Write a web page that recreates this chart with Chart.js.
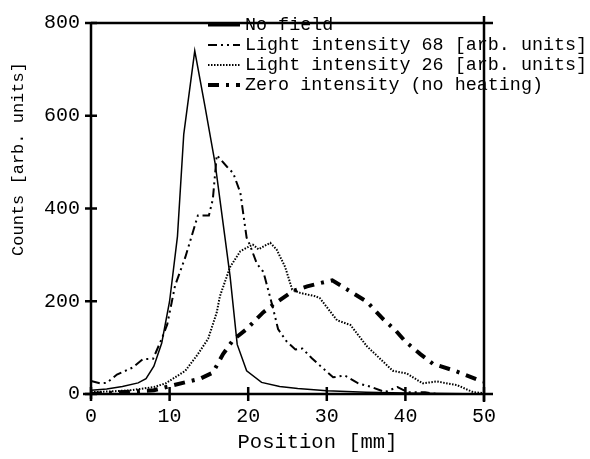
<!DOCTYPE html>
<html><head><meta charset="utf-8">
<script src="https://cdn.jsdelivr.net/npm/chart.js@4/dist/chart.umd.min.js"></script>
<style>html,body{margin:0;padding:0;background:#fff;} canvas{display:block;}</style>
</head><body>
<canvas id="c" width="590" height="459" style="width:590px;height:459px"></canvas>
<script>
// ---- data ----
const xTicks = [0, 10, 20, 30, 40, 50];
const yTicks = [0, 200, 400, 600, 800];
const xTitle = 'Position [mm]';
const yTitle = 'Counts [arb. units]';
const seriesNames = [
  'No field',
  'Light intensity 68 [arb. units]',
  'Light intensity 26 [arb. units]',
  'Zero intensity (no heating)'
];

const noFieldX = [0, 2, 4, 6, 7, 8, 9, 10, 11, 11.8, 13.2, 14.5, 15.8, 17, 17.7, 18.6, 19.8, 21.7, 24, 26.3, 30, 35, 40, 45, 50];
const noFieldY = [8, 11, 16, 24, 33, 60, 110, 200, 340, 560, 740, 620, 496, 343, 253, 107, 50, 25, 16, 12, 7, 4, 2, 1, 0];

const light68X = [0, 1.2, 2, 3.3, 5.3, 6.6, 7.9, 9, 9.7, 10.7, 12, 13.6, 15.0, 15.5, 16.0, 17.3, 18.1, 19, 19.8, 20.2, 21.1, 21.9, 22.1, 23.2, 23.8, 24.9, 26, 26.9, 28.1, 29.4, 30.8, 32.3, 34, 35.7, 37.4, 39, 40.3, 42.5, 44, 50];
const light68Y = [28, 23, 24, 42, 57, 75, 76, 119, 150, 234, 295, 385, 385, 420, 515, 490, 476, 434, 337, 322, 281, 264, 253, 182, 140, 113, 96, 98, 77, 57, 36, 40, 23, 15, 4, 15, 4, 4, 0, 0];

const light26X = [0, 3, 5, 8, 9.5, 12, 13.6, 14.9, 16, 16.4, 17.7, 19, 20.1, 20.6, 21.3, 22.8, 23.6, 24.7, 25.6, 26.6, 28.5, 29.1, 31.3, 33, 35.1, 38.4, 40.2, 42.2, 44, 46.6, 48.6, 50];
const light26Y = [4, 6, 8, 15, 23, 50, 86, 119, 176, 211, 274, 308, 318, 322, 312, 326, 312, 274, 225, 218, 211, 207, 159, 149, 103, 50, 44, 23, 27, 19, 4, 2];

const zeroX = [0, 3, 8, 10.5, 13.9, 15.5, 16.8, 18.1, 19.8, 21.9, 23.2, 25.7, 27.5, 29.1, 30.7, 33.3, 35.1, 37.2, 38.7, 40, 41.9, 43.5, 46.3, 49.5, 50];
const zeroY = [0, 3, 8, 19, 33, 46, 86, 117, 140, 176, 193, 222, 232, 239, 245, 218, 199, 161, 138, 113, 86, 65, 50, 29, 27];

// ---- styling ----
const FONT = '"Liberation Mono", "Courier New", monospace';
const seriesStyle = [
  { borderWidth: 1.5, borderDash: [], legendWidth: 3 },
  { borderWidth: 2, borderDash: [9, 4, 2, 4, 2, 4], legendWidth: 2 },
  { borderWidth: 2, borderDash: [1.5, 1.5], legendWidth: 2 },
  { borderWidth: 4, borderDash: [11, 7, 3, 7], legendWidth: 4 }
];
const seriesX = [noFieldX, light68X, light26X, zeroX];
const seriesY = [noFieldY, light68Y, light26Y, zeroY];

const datasets = seriesNames.map((name, i) => ({
  label: name,
  data: seriesX[i].map((x, j) => ({ x: x, y: seriesY[i][j] })),
  borderColor: '#000',
  backgroundColor: '#000',
  borderWidth: seriesStyle[i].borderWidth,
  borderDash: seriesStyle[i].borderDash,
  pointRadius: 0,
  tension: 0,
  fill: false
}));

function seg(ctx, x1, y1, x2, y2) { ctx.beginPath(); ctx.moveTo(x1, y1); ctx.lineTo(x2, y2); ctx.stroke(); }

const framePlugin = {
  id: 'frame',
  afterDraw(chart) {
    const ctx = chart.ctx, a = chart.chartArea, sx = chart.scales.x, sy = chart.scales.y;
    ctx.save();
    ctx.strokeStyle = '#000';
    ctx.lineWidth = 2.5;
    ctx.setLineDash([]);
    ctx.lineCap = 'butt';
    seg(ctx, a.left - 8, a.bottom, a.right + 9, a.bottom);
    seg(ctx, a.left, a.top, a.left, a.bottom + 5);
    seg(ctx, a.left, a.top, a.right + 9, a.top);
    seg(ctx, a.right, a.top - 7, a.right, a.bottom + 8);
    xTicks.forEach(v => { const px = sx.getPixelForValue(v); seg(ctx, px, a.bottom - 7, px, a.bottom + 7); });
    yTicks.forEach(v => { const py = sy.getPixelForValue(v); seg(ctx, a.left - 6, py, a.left + 6, py); });

    // axis titles
    ctx.fillStyle = '#000';
    ctx.textAlign = 'center';
    ctx.textBaseline = 'middle';
    ctx.font = '20.5px ' + FONT;
    ctx.fillText(xTitle, a.left + (a.right - a.left) / 2 + 30, 443);
    ctx.save();
    ctx.translate(18, 159);
    ctx.rotate(-Math.PI / 2);
    ctx.font = '17px ' + FONT;
    ctx.fillText(yTitle, 0, 0);
    ctx.restore();

    // legend
    ctx.font = '18.4px ' + FONT;
    ctx.textAlign = 'left';
    chart.data.datasets.forEach((ds, i) => {
      const cy = 25 + i * 20;
      ctx.save();
      ctx.lineWidth = seriesStyle[i].legendWidth;
      ctx.setLineDash(seriesStyle[i].borderDash);
      seg(ctx, 208, cy, 240, cy);
      ctx.restore();
      ctx.fillText(ds.label, 245, cy);
    });
    ctx.restore();
  }
};

new Chart(document.getElementById('c'), {
  type: 'line',
  data: { datasets: datasets },
  options: {
    responsive: false,
    devicePixelRatio: 1,
    animation: false,
    layout: { padding: { left: 0, right: 106, top: 12, bottom: 0 } },
    plugins: { legend: { display: false }, tooltip: { enabled: false } },
    scales: {
      x: {
        type: 'linear', min: 0, max: 50,
        grid: { display: false, drawTicks: false }, border: { display: false },
        ticks: { stepSize: 10, color: '#000', font: { family: FONT, size: 20 }, padding: 11, maxRotation: 0 },
        afterFit(s) { s.height = 65; }
      },
      y: {
        type: 'linear', min: 0, max: 800,
        grid: { display: false, drawTicks: false }, border: { display: false },
        ticks: { stepSize: 200, color: '#000', font: { family: FONT, size: 20 }, padding: 11 },
        afterFit(s) { s.width = 91; }
      }
    }
  },
  plugins: [framePlugin]
});
</script>
</body></html>
